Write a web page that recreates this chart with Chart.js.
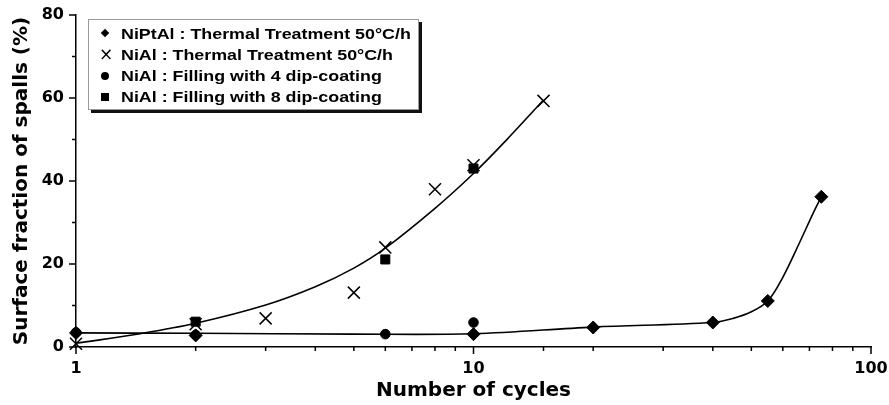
<!DOCTYPE html>
<html>
<head>
<meta charset="utf-8">
<script src="https://cdn.jsdelivr.net/npm/chart.js@4/dist/chart.umd.min.js"></script>
<style>
  html, body { margin: 0; padding: 0; background: #fff; }
  #wrap { position: relative; width: 889px; height: 405px; }
  #legend {
    position: absolute; left: 88px; top: 19px; width: 331px; height: 91px;
    border: 1px solid #999; box-shadow: 3px 3px 0 #111; background: #fff;
    font: bold 15px "Liberation Sans", Arial, sans-serif; color: #000;
    box-sizing: border-box; padding-top: 3px;
  }
  .row { height: 21px; line-height: 21px; position: relative; white-space: nowrap; }
  .row .txt { position: absolute; left: 32px; top: 0; transform: scaleX(1.19); transform-origin: 0 50%; }
  .mk { position: absolute; left: 12px; top: 7px; width: 7px; height: 7px; background: #000; }
  .mk.dia { transform: rotate(45deg); width: 6px; height: 6px; left: 13px; }
  .mk.cir { border-radius: 50%; width: 8px; height: 8px; }
  .mk.sq { width: 8px; height: 8px; }
  .mk.x { background: none; font: 17px "DejaVu Sans", sans-serif; top: 0; left: 10px; width: auto; height: auto; line-height: 21px; }
</style>
</head>
<body>
<div id="wrap">
  <canvas id="grafico" width="889" height="405"></canvas>
  <div id="legend">
    <div class="row"><span class="mk dia"></span><span class="txt">NiPtAl : Thermal Treatment 50°C/h</span></div>
    <div class="row"><span class="mk x">×</span><span class="txt">NiAl : Thermal Treatment 50°C/h</span></div>
    <div class="row"><span class="mk cir"></span><span class="txt">NiAl : Filling with 4 dip-coating</span></div>
    <div class="row"><span class="mk sq"></span><span class="txt">NiAl : Filling with 8 dip-coating</span></div>
  </div>
</div>
<script>
// points
const ciclosNiPtAl = [1, 2, 10, 20, 40, 55, 75];
const spallsNiPtAl = [3.4, 2.8, 3.1, 4.7, 5.9, 11.1, 36.2];

const ciclosNiAl = [1, 2, 3, 5, 6, 8, 10, 15];
const spallsNiAl = [0.8, 5.5, 6.9, 13.1, 24.0, 38.0, 43.8, 59.3];

const ciclos4dip = [1, 2, 6, 10];
const spalls4dip = [3.5, 2.9, 3.1, 5.9];

const ciclos8dip = [2, 6, 10];
const spalls8dip = [6.1, 21.1, 43.0];

// fitted curves
const curvaNiAlX = [1, 1.45, 2, 3, 4, 5, 6, 8, 10, 12, 15];
const curvaNiAlY = [0.9, 3.2, 5.7, 10.1, 14.5, 19.0, 23.8, 33.4, 41.8, 49.5, 59.5];

const curvaNiPtAlX = [1, 2, 5, 10, 20, 40, 45, 50, 55, 60, 66, 71.5, 75];
const curvaNiPtAlY = [3.4, 3.3, 3.1, 3.2, 4.8, 5.9, 6.9, 8.5, 11.1, 16.8, 25.0, 32.2, 36.2];

const ticksX = [1, 10, 100];

const pares = (xs, ys) => xs.map((x, i) => ({ x: x, y: ys[i] }));

const marcas = {
  id: 'marcas',
  afterDraw(chart) {
    const { ctx, scales: { x, y } } = chart;
    ctx.save();
    ctx.strokeStyle = '#000';
    ctx.lineWidth = 1.5;
    ctx.beginPath();
    x.ticks.forEach(t => {
      const px = x.getPixelForValue(t.value);
      const len = ticksX.includes(t.value) ? 7 : 4;
      ctx.moveTo(px, x.top);
      ctx.lineTo(px, x.top + len);
    });
    y.ticks.forEach(t => {
      const py = y.getPixelForValue(t.value);
      const len = t.value % 20 === 0 ? 7 : 4;
      ctx.moveTo(y.right, py);
      ctx.lineTo(y.right - len, py);
    });
    ctx.stroke();
    ctx.restore();
  }
};

const linha = {
  type: 'line', showLine: true, pointRadius: 0, borderColor: '#000', borderWidth: 1.6,
  tension: 0.35, fill: false
};
const ponto = {
  showLine: false, backgroundColor: '#000', borderColor: '#000', clip: false
};

new Chart(document.getElementById('grafico'), {
  type: 'scatter',
  data: {
    datasets: [
      Object.assign({ label: 'curva NiAl', data: pares(curvaNiAlX, curvaNiAlY), order: 5 }, linha),
      Object.assign({ label: 'curva NiPtAl', data: pares(curvaNiPtAlX, curvaNiPtAlY), order: 5 }, linha),
      Object.assign({ label: 'NiPtAl : Thermal Treatment 50°C/h', data: pares(ciclosNiPtAl, spallsNiPtAl),
        pointStyle: 'rectRot', pointRadius: 6.5, order: 1 }, ponto),
      Object.assign({ label: 'NiAl : Thermal Treatment 50°C/h', data: pares(ciclosNiAl, spallsNiAl),
        pointStyle: 'crossRot', pointRadius: 8.5, borderWidth: 1.5, order: 2 }, ponto),
      Object.assign({ label: 'NiAl : Filling with 4 dip-coating', data: pares(ciclos4dip, spalls4dip),
        pointStyle: 'circle', pointRadius: 4.8, order: 3 }, ponto),
      Object.assign({ label: 'NiAl : Filling with 8 dip-coating', data: pares(ciclos8dip, spalls8dip),
        pointStyle: 'rect', pointRadius: 6.4, order: 4 }, ponto)
    ]
  },
  options: {
    responsive: false,
    animation: false,
    layout: { padding: { top: 15, right: 18, left: 0, bottom: 0 } },
    plugins: { legend: { display: false }, tooltip: { enabled: false } },
    scales: {
      x: {
        type: 'logarithmic', min: 1, max: 100,
        afterFit: s => { s.height = 58; s.paddingLeft = 0; s.paddingRight = 0; },
        grid: { display: false, drawTicks: false },
        border: { display: true, color: '#000', width: 1.5 },
        ticks: {
          autoSkip: false, maxRotation: 0, padding: 12, color: '#000',
          font: { family: 'DejaVu Sans', size: 16, weight: 'bold' },
          callback: v => ticksX.includes(v) ? String(v) : ''
        },
        title: {
          display: true, text: 'Number of cycles', color: '#000',
          font: { family: 'DejaVu Sans', size: 20, weight: 'bold', lineHeight: 1.2 },
          padding: { top: 0, bottom: 2 }
        }
      },
      y: {
        min: 0, max: 80,
        afterFit: s => { s.width = 76; s.paddingTop = 0; s.paddingBottom = 0; },
        grid: { display: false, drawTicks: false },
        border: { display: true, color: '#000', width: 1.5 },
        ticks: {
          stepSize: 5, padding: 12, color: '#000',
          font: { family: 'DejaVu Sans', size: 16, weight: 'bold' },
          callback: v => v % 20 === 0 ? String(v) : ''
        },
        title: {
          display: true, text: 'Surface fraction of spalls (%)', color: '#000',
          font: { family: 'DejaVu Sans', size: 20, weight: 'bold', lineHeight: 1.2 },
          padding: { top: 10, bottom: 0 }
        }
      }
    }
  },
  plugins: [marcas]
});
</script>
</body>
</html>
